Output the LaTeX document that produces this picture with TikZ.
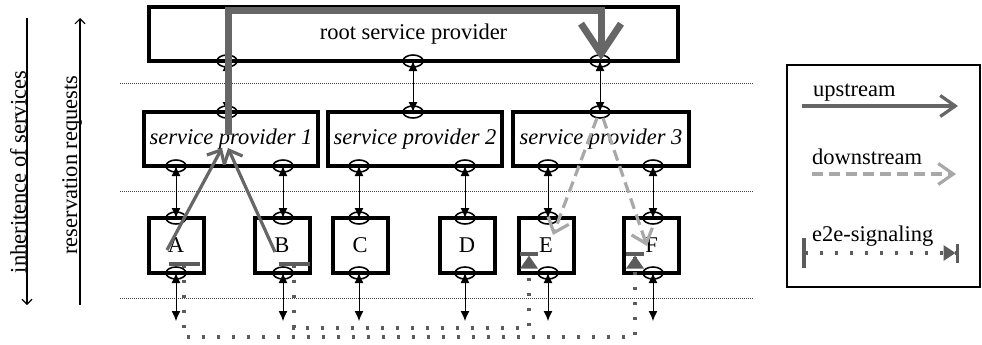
\documentclass[tikz,border=0pt]{standalone}
\usepackage{fontspec}
\setmainfont{Liberation Serif}
\usetikzlibrary{arrows.meta,shapes.geometric}
\definecolor{upc}{gray}{0.40}
\definecolor{downc}{gray}{0.66}
\definecolor{sigc}{gray}{0.36}
\begin{document}
\begin{tikzpicture}[x=1pt,y=-1pt,
  font=\fontsize{22.5}{25}\selectfont,
  box/.style={draw, line width=4pt, minimum height=54pt, inner sep=0pt},
  leaf/.style={draw, line width=4pt, minimum width=55pt, minimum height=55pt, inner sep=0pt},
  port/.style={draw, ellipse, line width=1.6pt, minimum width=20pt, minimum height=12pt, inner sep=0pt},
  link/.style={line width=1pt, {Latex[length=10pt,width=9pt]}-{Latex[length=10pt,width=9pt]}},
  sepline/.style={line width=0.8pt, dash pattern=on 1pt off 1pt, black!75},
  axis/.style={line width=1.1pt, -{Straight Barb[length=5pt,width=10pt]}},
  upflow/.style={draw=upc, line width=3.2pt, -{Straight Barb[length=11pt,width=20pt]}},
  downflow/.style={draw=downc, line width=3.2pt, dash pattern=on 11pt off 6pt, -{Straight Barb[length=13pt,width=22pt]}},
  e2e/.style={draw=sigc, line width=3.5pt, dash pattern=on 3.5pt off 11.5pt, {Bar[width=31pt]}-{Triangle[length=13pt,width=17pt]Bar[width=18pt]}},
]
\useasboundingbox (0,0) rectangle (982,345);

% separators
\draw[sepline] (120,83) -- (754,83);
\draw[sepline] (120,191) -- (754,191);
\draw[sepline] (120,298) -- (754,298);

% boxes
\node[box, minimum width=529pt] (root) at (413.5,34) {root service provider};
\node[box, minimum width=174pt] (sp1) at (231,139) {\itshape service provider 1};
\node[box, minimum width=174pt] (sp2) at (415,139) {\itshape service provider 2};
\node[box, minimum width=176pt] (sp3) at (601,139) {\itshape service provider 3};
\node[leaf] (A) at (176,245.5) {A};
\node[leaf] (B) at (282,245.5) {B};
\node[leaf] (C) at (360,245.5) {C};
\node[leaf] (D) at (467,245.5) {D};
\node[leaf] (E) at (546,245.5) {E};
\node[leaf] (F) at (651.5,245.5) {F};

% ports
\node[port] (r1) at (227,61) {};
\node[port] (r2) at (413,61) {};
\node[port] (r3) at (600,61) {};
\node[port] (t1) at (227,112) {};
\node[port] (t2) at (413,112) {};
\node[port] (t3) at (600,112) {};
\node[port] (sa) at (176,166) {};
\node[port] (sb) at (283,166) {};
\node[port] (sc) at (359,166) {};
\node[port] (sd) at (465,166) {};
\node[port] (se) at (548,166) {};
\node[port] (sf) at (653,166) {};
\node[port] (at) at (176,218) {};
\node[port] (bt) at (283,218) {};
\node[port] (ct) at (359,218) {};
\node[port] (dt) at (465,218) {};
\node[port] (et) at (548,218) {};
\node[port] (ft) at (653,218) {};
\node[port] (ab) at (176,273) {};
\node[port] (bb) at (283,273) {};
\node[port] (cb) at (359,273) {};
\node[port] (db) at (465,273) {};
\node[port] (eb) at (548,273) {};
\node[port] (fb) at (653,273) {};

% links
\draw[link] (r1.center) -- (t1.center);
\draw[link] (r2.center) -- (t2.center);
\draw[link] (r3.center) -- (t3.center);
\draw[link] (sa.center) -- (at.center);
\draw[link] (sb.center) -- (bt.center);
\draw[link] (sc.center) -- (ct.center);
\draw[link] (sd.center) -- (dt.center);
\draw[link] (se.center) -- (et.center);
\draw[link] (sf.center) -- (ft.center);
\coordinate (ao) at (176,321);
\coordinate (bo) at (283,321);
\coordinate (co) at (359,321);
\coordinate (do) at (465,321);
\coordinate (eo) at (548,321);
\coordinate (fo) at (653,321);
\draw[link] (ab.center) -- (ao);
\draw[link] (bb.center) -- (bo);
\draw[link] (cb.center) -- (co);
\draw[link] (db.center) -- (do);
\draw[link] (eb.center) -- (eo);
\draw[link] (fb.center) -- (fo);

% side axes
\coordinate (l1t) at (27,18);
\coordinate (l1b) at (27,305);
\coordinate (l2t) at (80,18);
\coordinate (l2b) at (80,305);
\draw[axis] (l1t) -- (l1b);
\draw[axis] (l2b) -- (l2t);
\node[rotate=90] (inh) at (18,172) {inheritence of services};
\node[rotate=90] (res) at (72,165) {reservation requests};

% big upstream path
\coordinate (u0) at (228,135);
\coordinate (u1) at (228,11);
\coordinate (u2) at (601,60);
\draw[upc, line width=7pt, -{Straight Barb[length=30pt,width=40pt]}] (u0) -- (u1) -| (u2);

% upstream from A and B
\coordinate (ua0) at (167,250);
\coordinate (ua1) at (222,148);
\coordinate (ub0) at (275,252);
\coordinate (ub1) at (228,148);
\draw[upflow] (ua0) -- (ua1);
\draw[upflow] (ub0) -- (ub1);

% downstream to E and F
\coordinate (de0) at (597,118);
\coordinate (de1) at (553,235);
\coordinate (df0) at (603,118);
\coordinate (df1) at (647,246);
\draw[downflow] (de0) -- (de1);
\draw[downflow] (df0) -- (df1);

% e2e signaling
\coordinate (sA) at (184,262);
\coordinate (cA) at (184,337);
\coordinate (eF) at (635,252);
\coordinate (sB) at (294,262);
\coordinate (cB) at (294,328);
\coordinate (eE) at (529,252);
\draw[e2e] (sA) -- (cA) -| (eF);
\draw[e2e] (sB) -- (cB) -| (eE);

% legend
\node[draw, line width=1.8pt, minimum width=193pt, minimum height=222pt, inner sep=0pt] (leg) at (883.5,176) {};
\node[anchor=west, inner sep=0pt] (lgu) at (813,93) {upstream};
\node[anchor=west, inner sep=0pt] (lgd) at (812,157) {downstream};
\node[anchor=west, inner sep=0pt] (lge) at (812,236) {e2e-signaling};
\coordinate (lu0) at (802,106);
\coordinate (lu1) at (958,106);
\coordinate (ld0) at (812,174);
\coordinate (ld1) at (956,174);
\coordinate (le0) at (802,253);
\coordinate (le1) at (959,253);
\draw[upflow, -{Straight Barb[length=15pt,width=21pt]}] (lu0) -- (lu1);
\draw[downflow, -{Straight Barb[length=15pt,width=21pt]}] (ld0) -- (ld1);
\draw[e2e, {Bar[width=30pt]}-{Triangle[length=12pt,width=15pt]Bar[width=19pt]}] (le0) -- (le1);
\end{tikzpicture}
\end{document}
